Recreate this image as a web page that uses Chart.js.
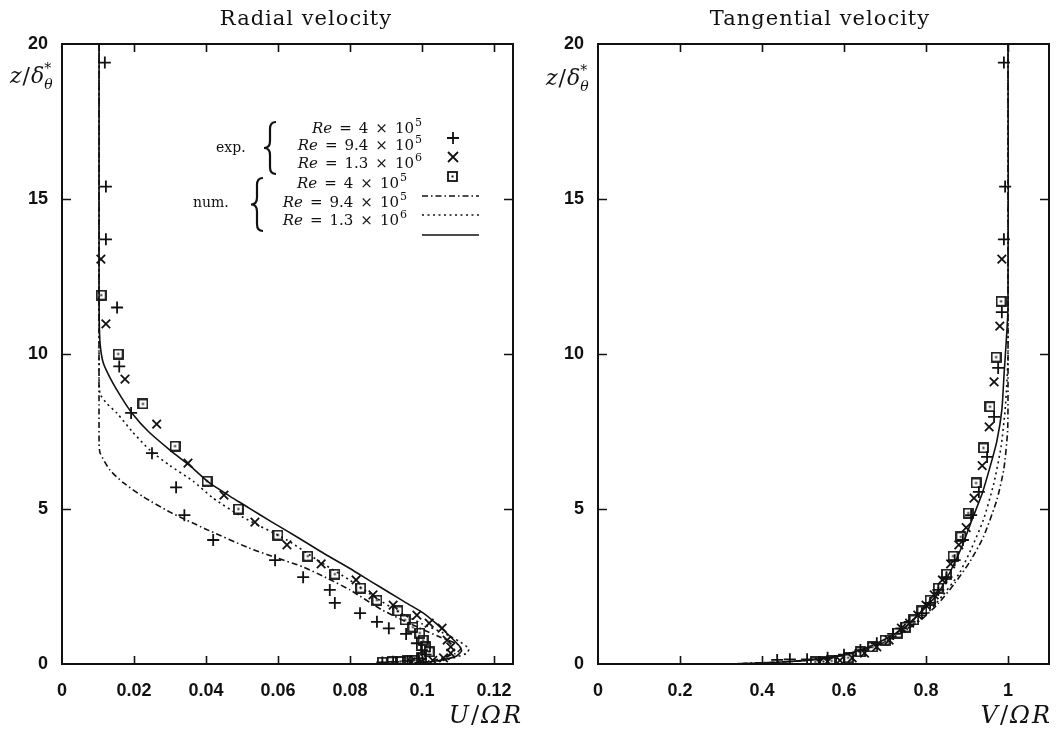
<!DOCTYPE html>
<html><head><meta charset="utf-8">
<script src="https://cdn.jsdelivr.net/npm/chart.js@4.4.1/dist/chart.umd.min.js"></script>
<style>
html,body{margin:0;padding:0;background:#fff;}
#wrap{position:relative;width:1058px;height:732px;overflow:hidden;background:#fff;}
canvas{position:absolute;top:0;}
</style></head><body>
<div id="wrap">
<canvas id="c1" width="540" height="732" style="left:0"></canvas>
<canvas id="c2" width="518" height="732" style="left:540px"></canvas>
</div>
<script>
// ---------------- DATA ----------------
const titles = ['Radial velocity', 'Tangential velocity'];
const reLabels = [['4', '5'], ['9.4', '5'], ['1.3', '6']];
const radialTicksX = [0, 0.02, 0.04, 0.06, 0.08, 0.1, 0.12];
const tangentialTicksX = [0, 0.2, 0.4, 0.6, 0.8, 1];
const ticksY = [0, 5, 10, 15, 20];

// Radial velocity, experiments [U/ΩR, z/δ]
const radExpRe4 = [[0.0119,19.4],[0.0122,15.4],[0.0122,13.7],[0.0153,11.5],[0.0159,9.6],[0.0192,8.1],[0.025,6.8],[0.0317,5.7],[0.034,4.8],[0.042,4.0],[0.0592,3.35],[0.067,2.8],[0.0744,2.39],[0.0758,1.97],[0.0828,1.64],[0.0875,1.36],[0.0908,1.15],[0.0956,0.97],[0.0986,0.67],[0.1,0.45],[0.101,0.3],[0.099,0.18],[0.096,0.1],[0.092,0.07],[0.089,0.05]];
const radExpRe94 = [[0.0108,13.06],[0.0122,10.97],[0.0175,9.19],[0.0263,7.74],[0.035,6.48],[0.045,5.45],[0.0536,4.58],[0.0625,3.84],[0.072,3.23],[0.0817,2.71],[0.0864,2.23],[0.092,1.9],[0.0986,1.58],[0.102,1.32],[0.1056,1.16],[0.107,0.77],[0.108,0.55],[0.108,0.35],[0.106,0.2],[0.103,0.12],[0.1,0.08],[0.097,0.06]];
const radExpRe13 = [[0.0109,11.9],[0.0156,10.0],[0.0225,8.39],[0.0314,7.03],[0.0403,5.9],[0.049,5.0],[0.06,4.16],[0.0683,3.48],[0.0758,2.9],[0.083,2.45],[0.0875,2.06],[0.0933,1.71],[0.0953,1.42],[0.0975,1.19],[0.0994,1.0],[0.1003,0.77],[0.101,0.55],[0.102,0.39],[0.1,0.2],[0.098,0.12],[0.096,0.1],[0.094,0.08],[0.0917,0.07],[0.089,0.06]];

// Radial velocity, numerical profiles
const radNumRe4 = [[0.0103,20],[0.0103,7.1],[0.0106,6.8],[0.0133,6.26],[0.017,5.85],[0.0225,5.4],[0.03,4.9],[0.04,4.35],[0.052,3.74],[0.059,3.45],[0.067,3.13],[0.074,2.75],[0.08,2.39],[0.089,1.74],[0.0986,1.2],[0.105,0.87],[0.1097,0.65],[0.1108,0.5],[0.1095,0.35],[0.104,0.14],[0.099,0.05],[0.095,0]];
const radNumRe94 = [[0.0103,20],[0.0103,9.2],[0.0106,8.7],[0.0125,8.4],[0.0152,8.1],[0.0195,7.5],[0.0244,6.9],[0.030,6.4],[0.0364,5.9],[0.042,5.35],[0.050,4.75],[0.0625,4.0],[0.071,3.35],[0.080,2.7],[0.087,2.15],[0.094,1.65],[0.1,1.3],[0.106,1.0],[0.1105,0.72],[0.113,0.5],[0.1125,0.35],[0.107,0.14],[0.1,0.05],[0.096,0]];
const radNumRe13 = [[0.0103,20],[0.0103,12],[0.0104,10.8],[0.0107,10.2],[0.0115,9.7],[0.0135,9.2],[0.0165,8.6],[0.0194,8.1],[0.024,7.5],[0.030,6.9],[0.036,6.35],[0.041,5.84],[0.0475,5.35],[0.052,5.03],[0.058,4.6],[0.066,4.05],[0.073,3.55],[0.080,3.08],[0.086,2.65],[0.091,2.3],[0.0955,1.98],[0.1003,1.65],[0.104,1.3],[0.108,0.87],[0.1106,0.55],[0.111,0.42],[0.1095,0.25],[0.105,0.12],[0.1,0.04],[0.095,0]];

// Tangential velocity, experiments [V/ΩR, z/δ]
const tanExpRe4 = [[0.99,19.4],[0.993,15.4],[0.99,13.7],[0.985,11.35],[0.976,9.55],[0.966,7.97],[0.949,6.68],[0.929,5.55],[0.91,4.8],[0.89,4.0],[0.87,3.35],[0.85,2.8],[0.83,2.39],[0.81,1.97],[0.79,1.64],[0.76,1.36],[0.74,1.15],[0.72,0.97],[0.68,0.67],[0.64,0.45],[0.6,0.3],[0.56,0.2],[0.51,0.15],[0.468,0.15],[0.437,0.13]];
const tanExpRe94 = [[0.985,13.06],[0.98,10.9],[0.966,9.1],[0.954,7.65],[0.937,6.4],[0.917,5.35],[0.898,4.4],[0.88,3.84],[0.86,3.23],[0.84,2.71],[0.82,2.23],[0.8,1.9],[0.78,1.58],[0.76,1.32],[0.74,1.16],[0.71,0.77],[0.68,0.55],[0.65,0.35],[0.62,0.2],[0.59,0.12],[0.56,0.08],[0.54,0.06]];
const tanExpRe13 = [[0.983,11.7],[0.971,9.9],[0.956,8.3],[0.94,6.97],[0.922,5.84],[0.903,4.87],[0.885,4.1],[0.866,3.48],[0.85,2.9],[0.83,2.45],[0.81,2.06],[0.79,1.71],[0.77,1.42],[0.75,1.19],[0.73,1.0],[0.7,0.77],[0.67,0.55],[0.64,0.39],[0.61,0.2],[0.59,0.12],[0.57,0.1],[0.55,0.08],[0.53,0.07]];

// Tangential velocity, numerical profiles
const tanNumRe4 = [[1.0,20],[1.0,8.5],[0.999,7.5],[0.99,6.3],[0.973,5.3],[0.94,4.1],[0.907,3.3],[0.87,2.6],[0.83,1.95],[0.79,1.45],[0.74,1.0],[0.69,0.65],[0.63,0.38],[0.56,0.2],[0.48,0.09],[0.38,0.03],[0.32,0]];
const tanNumRe94 = [[1.0,20],[1.0,10],[0.997,9],[0.993,8.2],[0.983,7],[0.965,5.8],[0.94,4.65],[0.91,3.7],[0.88,2.9],[0.84,2.2],[0.8,1.6],[0.75,1.1],[0.7,0.72],[0.64,0.42],[0.57,0.22],[0.49,0.1],[0.39,0.03],[0.32,0]];
const tanNumRe13 = [[1.0,20],[1.0,11.5],[0.99,9.26],[0.985,8.2],[0.973,7.2],[0.956,6.35],[0.937,5.5],[0.912,4.65],[0.888,3.8],[0.86,3.0],[0.83,2.3],[0.79,1.7],[0.75,1.2],[0.7,0.8],[0.65,0.5],[0.59,0.27],[0.52,0.13],[0.43,0.05],[0.32,0]];

// ---------------- STYLE HELPERS ----------------
const INK = '#111';
const toXY = a => a.map(p => ({x: p[0], y: p[1]}));

function makeBoxDot(size) {
  const c = document.createElement('canvas');
  c.width = size; c.height = size;
  const g = c.getContext('2d');
  g.strokeStyle = INK; g.lineWidth = 1.8;
  g.strokeRect(1, 1, size - 2, size - 2);
  g.fillStyle = INK;
  g.fillRect(size / 2 - 1, size / 2 - 1, 2, 2);
  return c;
}
const boxDot = makeBoxDot(11);

const dashDot = [6, 3, 1.5, 3];
const dotted = [2, 3.5];

function lineDs(data, dash) {
  return {data: toXY(data), showLine: true, borderColor: INK, borderWidth: 1.6,
    borderDash: dash, pointRadius: 0, fill: false, tension: 0.2, order: 2};
}
function ptDs(data, style) {
  return {data: toXY(data), showLine: false, pointStyle: style, pointRadius: 6,
    pointBorderColor: INK, pointBackgroundColor: 'rgba(0,0,0,0)', pointBorderWidth: 1.8, order: 1};
}

// text helpers
const SERIF = '"DejaVu Serif", "Liberation Serif", serif';
function txt(ctx, s, x, y, font, align, spacing) {
  ctx.font = font; ctx.textAlign = align || 'left'; ctx.textBaseline = 'alphabetic';
  if ('letterSpacing' in ctx) ctx.letterSpacing = (spacing || 0) + 'px';
  ctx.fillStyle = INK; ctx.fillText(s, x, y);
  const w = ctx.measureText(s).width;
  if ('letterSpacing' in ctx) ctx.letterSpacing = '0px';
  return w;
}

function drawYLabel(ctx, x, y) {
  let w = txt(ctx, 'z', x, y, 'italic 22px ' + SERIF);
  x += w + 1;
  w = txt(ctx, '/', x, y, '22px ' + SERIF);
  x += w + 1;
  w = txt(ctx, 'δ', x, y, 'italic 22px ' + SERIF);
  x += w;
  txt(ctx, '*', x, y - 10, '14px ' + SERIF);
  txt(ctx, 'θ', x, y + 6, 'italic 14px ' + SERIF);
}
function drawXLabel(ctx, letter, xRight, y) {
  const parts = [[letter, 'italic 24px '], ['/', '24px '], ['Ω', 'italic 24px '], ['R', 'italic 24px ']];
  let total = 0; const ws = [];
  parts.forEach(p => { ctx.font = p[1] + SERIF; const w = ctx.measureText(p[0]).width; ws.push(w); total += w + 2; });
  let x = xRight - total;
  parts.forEach((p, i) => { txt(ctx, p[0], x, y, p[1] + SERIF); x += ws[i] + 2; });
}

function drawRe(ctx, xRight, y, mant, exp) {
  const f = '15px ' + SERIF, fi = 'italic 15px ' + SERIF, fs = '11px ' + SERIF;
  const pieces = [['Re', fi, 0], ['=', f, 0], [mant, f, 0], ['×', f, 0], ['10', f, 0], [exp, fs, -7]];
  const gaps = [7, 7, 7, 7, 1, 0];
  let total = 0; const ws = [];
  pieces.forEach((p, i) => { ctx.font = p[1]; const w = ctx.measureText(p[0]).width; ws.push(w); total += w + gaps[i]; });
  let x = xRight - total;
  pieces.forEach((p, i) => { txt(ctx, p[0], x, y + p[2], p[1]); x += ws[i] + gaps[i]; });
}

function drawBrace(ctx, x, yTop, yBot) {
  const ym = (yTop + yBot) / 2, d = 6;
  ctx.save();
  ctx.strokeStyle = INK; ctx.lineWidth = 2.2; ctx.setLineDash([]);
  ctx.beginPath();
  ctx.moveTo(x + d, yTop);
  ctx.quadraticCurveTo(x, yTop, x, yTop + 7);
  ctx.lineTo(x, ym - 7);
  ctx.quadraticCurveTo(x, ym, x - d, ym);
  ctx.quadraticCurveTo(x, ym, x, ym + 7);
  ctx.lineTo(x, yBot - 7);
  ctx.quadraticCurveTo(x, yBot, x + d, yBot);
  ctx.stroke();
  ctx.restore();
}

// frame + inward ticks + annotations plugin factory
function makeFramePlugin(extraDraw) {
  return {
    id: 'frame',
    afterDatasetsDraw(chart) {
      const {ctx, chartArea: a, scales} = chart;
      ctx.save();
      ctx.strokeStyle = INK; ctx.lineWidth = 2; ctx.setLineDash([]);
      ctx.strokeRect(a.left, a.top, a.right - a.left, a.bottom - a.top);
      ctx.lineWidth = 1.6;
      ctx.beginPath();
      scales.x.ticks.forEach(t => {
        const px = Math.round(scales.x.getPixelForValue(t.value)) + 0.5;
        if (px <= a.left + 1 || px >= a.right - 1) return;
        ctx.moveTo(px, a.bottom); ctx.lineTo(px, a.bottom - 8);
        ctx.moveTo(px, a.top); ctx.lineTo(px, a.top + 8);
      });
      scales.y.ticks.forEach(t => {
        const py = Math.round(scales.y.getPixelForValue(t.value)) + 0.5;
        if (py <= a.top + 1 || py >= a.bottom - 1) return;
        ctx.moveTo(a.left, py); ctx.lineTo(a.left + 9, py);
        ctx.moveTo(a.right, py); ctx.lineTo(a.right - 9, py);
      });
      ctx.stroke();
      ctx.restore();
      ctx.save();
      extraDraw(ctx);
      ctx.restore();
    }
  };
}

function baseOptions(xMin, xMax, xTicks, yAxisWidth, padRight) {
  return {
    responsive: false, animation: false, devicePixelRatio: 1,
    layout: {padding: {left: 0, right: padRight, top: 44, bottom: 0}},
    plugins: {legend: {display: false}, tooltip: {enabled: false}, title: {display: false}},
    scales: {
      x: {type: 'linear', min: xMin, max: xMax,
        afterBuildTicks: s => { s.ticks = xTicks.map(v => ({value: v})); },
        afterFit: s => { s.height = 68; },
        grid: {display: false, drawTicks: false}, border: {display: false},
        ticks: {padding: 16, color: INK, font: {family: '"Liberation Sans", Arial, sans-serif', size: 18, weight: 'bold'},
          callback: v => String(v), maxRotation: 0, autoSkip: false}},
      y: {type: 'linear', min: 0, max: 20,
        afterBuildTicks: s => { s.ticks = ticksY.map(v => ({value: v})); },
        afterFit: s => { s.width = yAxisWidth; },
        grid: {display: false, drawTicks: false}, border: {display: false},
        ticks: {padding: 14, color: INK, font: {family: '"Liberation Sans", Arial, sans-serif', size: 18, weight: 'bold'}}}
    }
  };
}

// ---------------- LEFT CHART ----------------
function drawLeftExtras(ctx) {
  txt(ctx, titles[0], 306, 25, '21px ' + SERIF, 'center', 1);
  drawYLabel(ctx, 10, 83);
  drawXLabel(ctx, 'U', 523, 723);
  const rowsY = [133, 150, 168, 188, 207, 225];
  for (let i = 0; i < 3; i++) drawRe(ctx, 422, rowsY[i], reLabels[i][0], reLabels[i][1]);
  for (let i = 0; i < 3; i++) drawRe(ctx, 407, rowsY[i + 3], reLabels[i][0], reLabels[i][1]);
  txt(ctx, 'exp.', 216, 152, '14px ' + SERIF);
  txt(ctx, 'num.', 193, 207, '14px ' + SERIF);
  drawBrace(ctx, 270, 122, 174);
  drawBrace(ctx, 257, 178, 231);
  ctx.strokeStyle = INK; ctx.lineWidth = 1.8;
  ctx.beginPath();
  ctx.moveTo(447, 138); ctx.lineTo(459, 138); ctx.moveTo(453, 132); ctx.lineTo(453, 144);
  ctx.moveTo(448, 152); ctx.lineTo(458, 162); ctx.moveTo(458, 152); ctx.lineTo(448, 162);
  ctx.stroke();
  ctx.drawImage(boxDot, 447, 171);
  ctx.lineWidth = 1.6;
  [[dashDot, 196], [dotted, 215], [[], 235]].forEach(s => {
    ctx.setLineDash(s[0]);
    ctx.beginPath(); ctx.moveTo(422, s[1]); ctx.lineTo(479, s[1]); ctx.stroke();
  });
}
new Chart(document.getElementById('c1'), {
  type: 'scatter',
  data: {datasets: [
    lineDs(radNumRe4, dashDot), lineDs(radNumRe94, dotted), lineDs(radNumRe13, []),
    ptDs(radExpRe4, 'cross'), ptDs(radExpRe94, 'crossRot'), ptDs(radExpRe13, boxDot)
  ]},
  options: baseOptions(0, 0.1253, radialTicksX, 62, 27),
  plugins: [makeFramePlugin(drawLeftExtras)]
});

// ---------------- RIGHT CHART ----------------
function drawRightExtras(ctx) {
  txt(ctx, titles[1], 280, 25, '21px ' + SERIF, 'center', 1);
  drawYLabel(ctx, 6, 85);
  drawXLabel(ctx, 'V', 512, 723);
}
new Chart(document.getElementById('c2'), {
  type: 'scatter',
  data: {datasets: [
    lineDs(tanNumRe4, dashDot), lineDs(tanNumRe94, dotted), lineDs(tanNumRe13, []),
    ptDs(tanExpRe4, 'cross'), ptDs(tanExpRe94, 'crossRot'), ptDs(tanExpRe13, boxDot)
  ]},
  options: baseOptions(0, 1.1, tangentialTicksX, 58, 9),
  plugins: [makeFramePlugin(drawRightExtras)]
});
</script>
</body></html>
